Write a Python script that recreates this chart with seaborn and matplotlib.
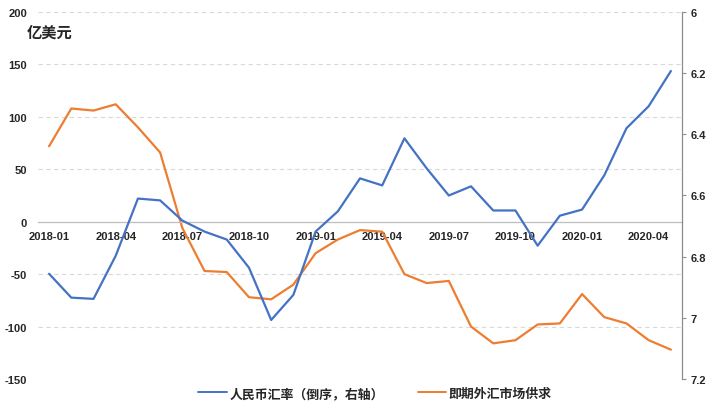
import matplotlib
matplotlib.use('Agg')
import matplotlib.pyplot as plt
import seaborn as sns
import pandas as pd
from matplotlib.lines import Line2D

months = ['2018-01', '2018-02', '2018-03', '2018-04', '2018-05', '2018-06', '2018-07', '2018-08',
          '2018-09', '2018-10', '2018-11', '2018-12', '2019-01', '2019-02', '2019-03', '2019-04',
          '2019-05', '2019-06', '2019-07', '2019-08', '2019-09', '2019-10', '2019-11', '2019-12',
          '2020-01', '2020-02', '2020-03', '2020-04', '2020-05']
fx_supply = [72, 108, 106, 112, 90, 66, -6, -47, -48, -72, -74, -60, -30, -17, -8, -9.5,
             -50, -58.5, -56.5, -100, -116, -113, -98, -97, -69, -91, -97, -113, -122]
rmb_rate = [6.856, 6.934, 6.938, 6.797, 6.610, 6.616, 6.682, 6.718, 6.744, 6.836, 7.007, 6.925,
            6.718, 6.652, 6.544, 6.567, 6.413, 6.511, 6.600, 6.570, 6.649, 6.649, 6.764, 6.666,
            6.646, 6.534, 6.380, 6.308, 6.193]
left_ticks = [200, 150, 100, 50, 0, -50, -100, -150]
right_ticks = [6.0, 6.2, 6.4, 6.6, 6.8, 7.0, 7.2]
right_tick_labels = ['6', '6.2', '6.4', '6.6', '6.8', '7', '7.2']
series_names = ['人民币汇率（倒序，右轴）', '即期外汇市场供求']
unit_label = '亿美元'

BLUE = '#4472C4'
ORANGE = '#ED7D31'

df = pd.DataFrame({'pos': list(range(len(months))), 'month': months,
                   'supply': fx_supply, 'rate': rmb_rate})

sns.set_style('white')
plt.rcParams['font.family'] = ['Liberation Sans', 'Noto Sans CJK SC', 'DejaVu Sans']

fig = plt.figure(figsize=(7.13, 4.10), dpi=100)
ax = fig.add_axes([38 / 713, 30 / 410, 644 / 713, 367 / 410])

sns.lineplot(data=df, x='pos', y='supply', ax=ax, color=ORANGE, lw=1.6)
ax.set_xlim(-0.5, len(months) - 0.5)
ax.set_ylim(-150, 200)
ax.set_yticks(left_ticks)
ax.set_yticklabels([str(t) for t in left_ticks])
ax.yaxis.grid(True, ls=(0, (4, 3)), color='#d9d9d9', lw=0.8)
ax.xaxis.grid(False)
ax.tick_params(axis='y', length=0, labelsize=8, pad=8)
for lab in ax.get_yticklabels():
    lab.set_fontweight('bold')
ax.set_xlabel('')
ax.set_ylabel('')
for s in ['top', 'left', 'right']:
    ax.spines[s].set_visible(False)
ax.spines['bottom'].set_position(('data', 0))
ax.spines['bottom'].set_color('#bfbfbf')
ax.spines['bottom'].set_linewidth(0.9)

major = [i - 0.5 for i in range(0, len(months), 3)]
ax.set_xticks(major)
ax.set_xticklabels([''] * len(major))
ax.tick_params(axis='x', which='major', direction='in', length=4, color='#bfbfbf', width=0.9)
minor = list(range(0, len(months), 3))
ax.set_xticks(minor, minor=True)
ax.set_xticklabels([months[i] for i in minor], minor=True, fontsize=8, fontweight='bold')
ax.tick_params(axis='x', which='minor', length=0, pad=7)

ax2 = ax.twinx()
sns.lineplot(data=df, x='pos', y='rate', ax=ax2, color=BLUE, lw=1.6)
ax2.set_ylim(7.2, 6.0)
ax2.set_yticks(right_ticks)
ax2.set_yticklabels(right_tick_labels, fontsize=8, fontweight='bold')
ax2.tick_params(axis='y', length=3, direction='out', color='#8c8c8c', pad=3)
ax2.grid(False)
ax2.set_xlabel('')
ax2.set_ylabel('')
for s in ['top', 'left', 'bottom']:
    ax2.spines[s].set_visible(False)
ax2.spines['right'].set_color('#8c8c8c')
ax2.spines['right'].set_linewidth(0.9)

fig.text(27 / 713, 1 - 33 / 410, unit_label, fontsize=11, fontweight='bold',
         family=['Noto Sans CJK SC'], va='center', ha='left')

handles = [Line2D([], [], color=BLUE, lw=1.4), Line2D([], [], color=ORANGE, lw=1.4)]
fig.legend(handles, series_names, loc='center', bbox_to_anchor=(375 / 713, 1 - 394 / 410),
           ncol=2, frameon=False, handlelength=2.2, handletextpad=0.2, columnspacing=2.6,
           borderpad=0.2, prop={'family': ['Noto Sans CJK SC'], 'weight': 'bold', 'size': 9.3})

fig.savefig('out.png', dpi=100)
